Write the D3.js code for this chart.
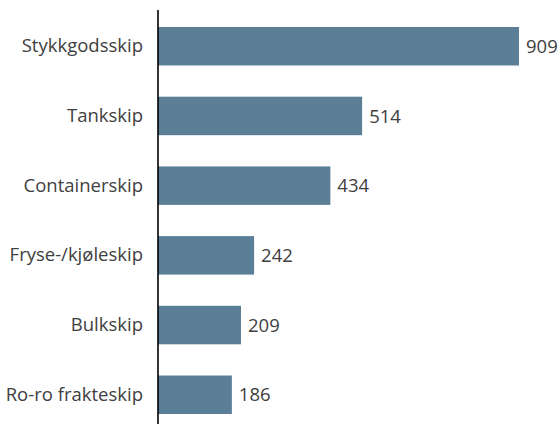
<!DOCTYPE html>
<html><head><meta charset="utf-8">
<script src="https://cdn.jsdelivr.net/npm/d3@7"></script>
<style>body{margin:0;background:#fff}svg{display:block}</style>
</head><body>
<svg id="c" width="560" height="424"></svg>
<script>
const categories = ["Stykkgodsskip","Tankskip","Containerskip","Fryse-/kjøleskip","Bulkskip","Ro-ro frakteskip"];
const values = [909,514,434,242,209,186];

const svg = d3.select("#c");
const x0 = 158;
const x = d3.scaleLinear().domain([0, 909]).range([x0, 519]);
const y = d3.scaleBand().domain(categories).range([11.4, 429.6]).paddingInner(0.448).paddingOuter(0.224);
const font = "'Open Sans', sans-serif";
const fs = 18.5;

svg.selectAll("rect.bar").data(values).join("rect")
  .attr("class","bar")
  .attr("x", x(0))
  .attr("y", (d,i)=>y(categories[i]))
  .attr("width", d=>x(d)-x(0))
  .attr("height", y.bandwidth())
  .attr("fill","#5a7f96");

svg.selectAll("text.val").data(values).join("text")
  .attr("class","val")
  .attr("x", d=>x(d)+7)
  .attr("y", (d,i)=>y(categories[i])+y.bandwidth()/2)
  .attr("dy","0.36em")
  .attr("font-family", font).attr("font-size", fs).attr("fill","#404040")
  .text(d=>d);

const axis = d3.axisLeft(y).tickSize(0).tickPadding(15);
const g = svg.append("g").attr("transform",`translate(${x0},0)`).call(axis);
g.select(".domain").remove();
g.selectAll("text").attr("font-family", font).attr("font-size", fs).attr("fill","#404040");
svg.append("line").attr("x1",x0).attr("x2",x0).attr("y1",10).attr("y2",424)
  .attr("stroke","#000").attr("stroke-width",1.6);
</script>
</body></html>
